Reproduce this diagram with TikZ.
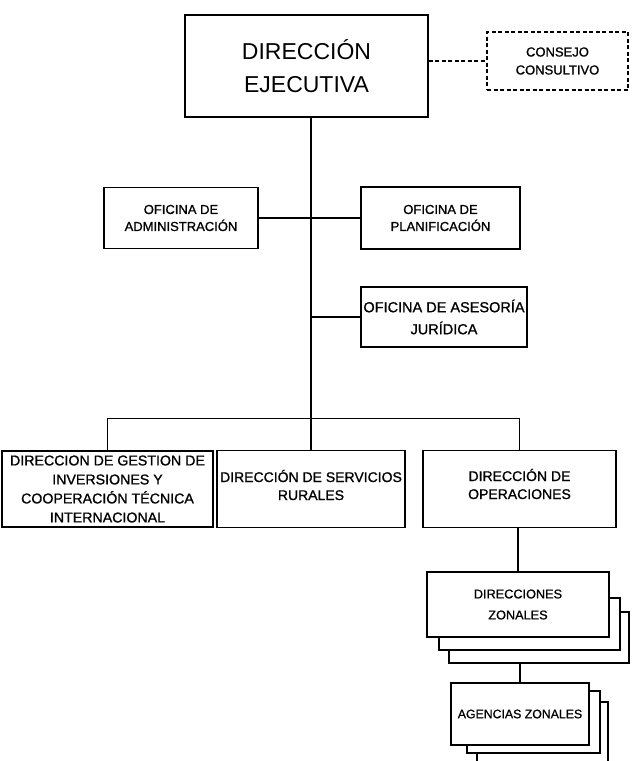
\documentclass[tikz,border=0pt]{standalone}
\usepackage{fontspec}
\setmainfont{Liberation Sans}
\newfontfamily\scanfont[FakeBold=1]{Liberation Sans}
\begin{document}
\begin{tikzpicture}[x=1pt,y=-1pt,
  org/.style={draw, line width=1.5pt, inner sep=0pt, align=center, fill=white},
  lay/.style={draw, line width=1.5pt, inner sep=0pt, fill=white},
  conn/.style={line width=1.4pt},
  small/.style={font=\scanfont\fontsize{13}{17}\selectfont},
  mid/.style={font=\scanfont\fontsize{14}{18}\selectfont},
  txt/.style={inner sep=0pt, align=center}
]
\fill[white] (0,0) rectangle (632,761);
\useasboundingbox (0,0) rectangle (632,761);

% top
\node[org, minimum width=243pt, minimum height=102pt, font=\fontsize{23}{33}\selectfont] (DE) at (306.5,66) {DIRECCIÓN\\EJECUTIVA};
\node[draw, line width=1.4pt, dash pattern=on 4pt off 2.5pt, inner sep=0pt, align=center,
      minimum width=141pt, minimum height=58pt, font=\scanfont\fontsize{13}{18}\selectfont] (CC) at (557.5,61) {CONSEJO\\CONSULTIVO};

% middle offices
\node[org, minimum width=154pt, minimum height=61pt, small] (OA) at (181,218) {OFICINA DE\\ADMINISTRACIÓN};
\node[org, minimum width=159pt, minimum height=62pt, small] (OP) at (440.5,218) {OFICINA DE\\PLANIFICACIÓN};
\node[org, minimum width=166pt, minimum height=60pt, font=\scanfont\fontsize{14.5}{22}\selectfont] (OJ) at (444,317) {OFICINA DE ASESORÍA\\JURÍDICA};

% bottom row
\node[org, minimum width=211pt, minimum height=76pt, font=\scanfont\fontsize{14.2}{19}\selectfont] (B1) at (107.5,489) {DIRECCION DE GESTION DE\\INVERSIONES Y\\COOPERACIÓN TÉCNICA\\INTERNACIONAL};
\node[org, minimum width=188pt, minimum height=77pt] (B2) at (311,489) {};
\node[org, minimum width=193pt, minimum height=77pt] (B3) at (519.5,489) {};
\node[txt, mid] (B2t) at ([yshift=4pt]B2.center) {DIRECCIÓN DE SERVICIOS\\RURALES};
\node[txt, mid] (B3t) at ([yshift=5pt]B3.center) {DIRECCIÓN DE\\OPERACIONES};

% direcciones zonales stack
\node[lay, minimum width=180pt, minimum height=51pt] (DZ3) at (539,637.5) {};
\node[lay, minimum width=181pt, minimum height=52pt] (DZ2) at (529.5,624) {};
\node[org, minimum width=182pt, minimum height=65pt, font=\scanfont\fontsize{12.7}{21}\selectfont] (DZ) at (518,604.5) {DIRECCIONES\\ZONALES};

% agencias zonales stack
\node[lay, minimum width=131pt, minimum height=68pt] (AG3) at (542.5,736) {};
\node[lay, minimum width=133pt, minimum height=62pt] (AG2) at (533.5,722) {};
\node[org, minimum width=138pt, minimum height=62pt, font=\scanfont\fontsize{12.3}{17}\selectfont] (AG) at (520,714) {AGENCIAS ZONALES};

% connectors
\draw[conn, dash pattern=on 4pt off 2.5pt] (DE.east |- CC.west) -- (CC.west);
\draw[conn] (DE.south -| B2.north) -- (B2.north);
\draw[conn] (OA.east) -- (OP.west);
\draw[conn] (OJ.west -| B2.north) -- (OJ.west);
\draw[conn] (B1.north) -- ++(0,-32) -| (B3.north);
\draw[conn] (B3.south -| DZ.north) -- (DZ.north);
\draw[conn] (AG.north |- DZ3.south) -- (AG.north);
\end{tikzpicture}
\end{document}
